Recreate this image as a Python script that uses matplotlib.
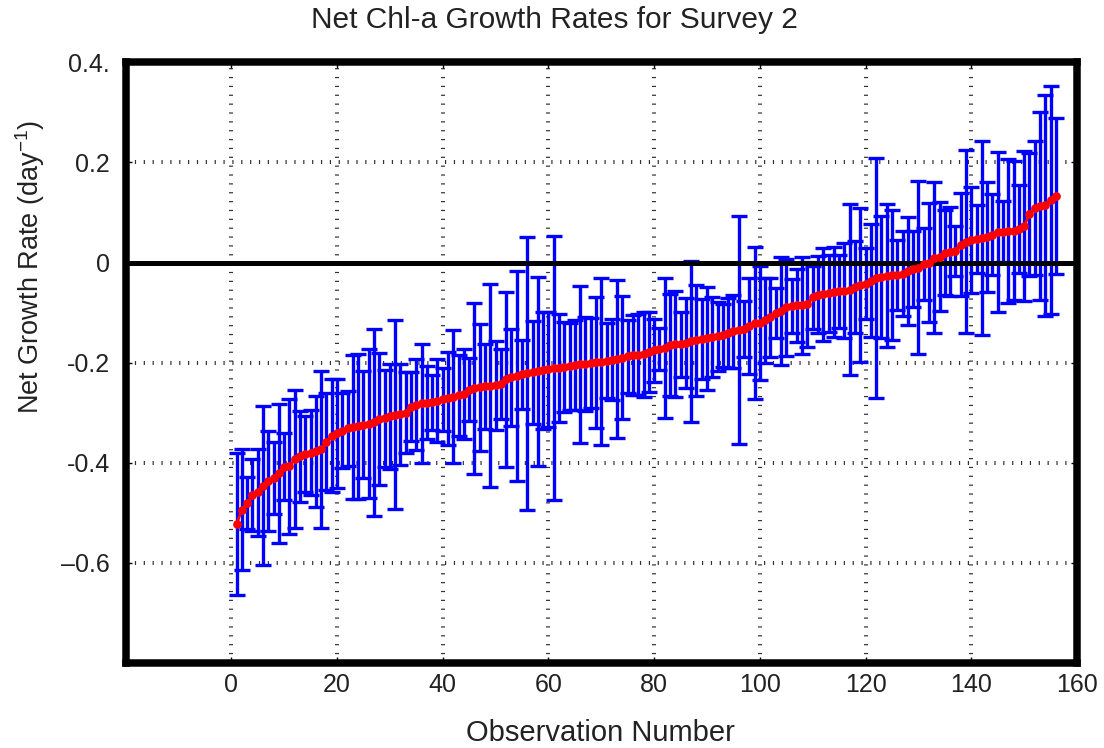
import matplotlib
matplotlib.use("Agg")
import matplotlib.pyplot as plt

plt.rcParams["font.family"] = ["Liberation Sans", "DejaVu Sans"]
plt.rcParams["mathtext.fontset"] = "custom"
plt.rcParams["mathtext.rm"] = "Liberation Sans"
plt.rcParams["mathtext.it"] = "Liberation Sans:italic"

# Net chlorophyll-a growth rates (day^-1), sorted ascending, survey 2
growth_rate = [
    -0.523, -0.494, -0.481, -0.465, -0.459, -0.446, -0.437, -0.431, -0.421, -0.408,
    -0.407, -0.393, -0.387, -0.383, -0.380, -0.377, -0.373, -0.358, -0.346, -0.341,
    -0.336, -0.331, -0.329, -0.327, -0.324, -0.322, -0.319, -0.313, -0.311, -0.307,
    -0.304, -0.303, -0.300, -0.288, -0.284, -0.281, -0.280, -0.279, -0.276, -0.273,
    -0.271, -0.268, -0.265, -0.262, -0.254, -0.251, -0.249, -0.247, -0.246, -0.245,
    -0.243, -0.233, -0.229, -0.226, -0.223, -0.221, -0.219, -0.217, -0.215, -0.213,
    -0.211, -0.211, -0.209, -0.207, -0.205, -0.203, -0.202, -0.201, -0.199, -0.198,
    -0.196, -0.194, -0.192, -0.190, -0.187, -0.185, -0.184, -0.183, -0.178, -0.175,
    -0.173, -0.171, -0.165, -0.163, -0.163, -0.161, -0.157, -0.155, -0.153, -0.151,
    -0.149, -0.147, -0.145, -0.141, -0.137, -0.135, -0.132, -0.127, -0.121, -0.120,
    -0.115, -0.109, -0.101, -0.096, -0.089, -0.087, -0.085, -0.085, -0.083, -0.069,
    -0.064, -0.063, -0.061, -0.059, -0.057, -0.056, -0.054, -0.049, -0.045, -0.042,
    -0.036, -0.031, -0.029, -0.026, -0.025, -0.024, -0.022, -0.017, -0.013, -0.010,
    -0.002, 0.000, 0.010, 0.012, 0.020, 0.022, 0.024, 0.036, 0.042, 0.045,
    0.047, 0.049, 0.051, 0.056, 0.061, 0.062, 0.063, 0.064, 0.067, 0.073,
    0.096, 0.109, 0.113, 0.114, 0.125, 0.133,
]

# Uncertainty (half-width of each error bar)
rate_error = [
    0.142, 0.121, 0.052, 0.072, 0.087, 0.159, 0.100, 0.072, 0.139, 0.067,
    0.135, 0.138, 0.091, 0.076, 0.085, 0.111, 0.157, 0.097, 0.113, 0.109,
    0.075, 0.075, 0.144, 0.145, 0.107, 0.149, 0.187, 0.132, 0.097, 0.105,
    0.189, 0.101, 0.081, 0.069, 0.091, 0.119, 0.073, 0.055, 0.083, 0.063,
    0.093, 0.133, 0.081, 0.090, 0.063, 0.171, 0.127, 0.085, 0.203, 0.089,
    0.070, 0.175, 0.097, 0.210, 0.069, 0.273, 0.103, 0.189, 0.117, 0.115,
    0.264, 0.108, 0.090, 0.087, 0.090, 0.157, 0.094, 0.090, 0.131, 0.167,
    0.075, 0.081, 0.158, 0.123, 0.073, 0.080, 0.081, 0.085, 0.080, 0.063,
    0.042, 0.140, 0.102, 0.106, 0.065, 0.090, 0.161, 0.111, 0.080, 0.103,
    0.080, 0.069, 0.063, 0.070, 0.073, 0.227, 0.056, 0.096, 0.152, 0.114,
    0.085, 0.079, 0.050, 0.108, 0.097, 0.054, 0.073, 0.097, 0.085, 0.063,
    0.077, 0.093, 0.077, 0.090, 0.073, 0.095, 0.171, 0.092, 0.154, 0.071,
    0.113, 0.239, 0.121, 0.143, 0.129, 0.070, 0.085, 0.107, 0.076, 0.173,
    0.072, 0.118, 0.151, 0.109, 0.085, 0.088, 0.050, 0.103, 0.183, 0.105,
    0.068, 0.193, 0.109, 0.081, 0.160, 0.061, 0.143, 0.138, 0.087, 0.150,
    0.123, 0.133, 0.187, 0.220, 0.227, 0.155,
]

observation = list(range(1, len(growth_rate) + 1))

x_ticks = [0, 20, 40, 60, 80, 100, 120, 140, 160]
x_tick_labels = ["0", "20", "40", "60", "80", "100", "120", "140", "160"]
y_ticks = [-0.6, -0.4, -0.2, 0.0, 0.2, 0.4]
y_tick_labels = ["\u20130.6", "-0.4", "-0.2", "0", "0.2", "0.4."]

text_color = "#222222"

fig = plt.figure(figsize=(11.04, 7.48), dpi=100)
ax = fig.add_axes([0.1137, 0.1136, 0.8618, 0.8031])

ax.set_xlim(-20, 160)
ax.set_ylim(-0.8, 0.4)

# Dotted grid made of short perpendicular dashes
grid_style = dict(color="#333333", linewidth=2.9, linestyle=(0, (0.3, 1.9)),
                  dash_capstyle="butt", zorder=0.5)
for xt in x_ticks:
    ax.axvline(xt, **grid_style)
for yt in y_ticks:
    ax.axhline(yt, **grid_style)

ax.errorbar(observation, growth_rate, yerr=rate_error, fmt="none",
            ecolor="#0000ff", elinewidth=2.4, capsize=5.6, capthick=2.4, zorder=2)

ax.axhline(0, color="black", linewidth=3.6, zorder=3)

ax.plot(observation, growth_rate, linestyle="-", color="#ff0000", linewidth=2,
        marker="o", markersize=6.3, markeredgewidth=0, zorder=4)

ax.set_xticks(x_ticks)
ax.set_xticklabels(x_tick_labels)
ax.set_yticks(y_ticks)
ax.set_yticklabels(y_tick_labels)
ax.tick_params(axis="both", direction="in", length=4, width=1, color="black",
               labelsize=18, labelcolor=text_color, top=True, right=True)
ax.tick_params(axis="y", pad=11)
ax.tick_params(axis="x", pad=7)

for spine in ax.spines.values():
    spine.set_linewidth(5.4)
    spine.set_color("black")
    spine.set_zorder(6)

ax.set_xlabel("Observation Number", fontsize=21, color=text_color, va="center")
ax.xaxis.set_label_coords(0.499, -0.117)
ax.set_ylabel("Net Growth Rate (day$^{-1}$)", fontsize=19.5, color=text_color,
              va="center")
ax.yaxis.set_label_coords(-0.1, 0.66)

fig.text(0.502, 0.973, "Net Chl-a Growth Rates for Survey 2", fontsize=21.5,
         color=text_color, ha="center", va="center")

fig.savefig("out.png", dpi=100, facecolor="white")
